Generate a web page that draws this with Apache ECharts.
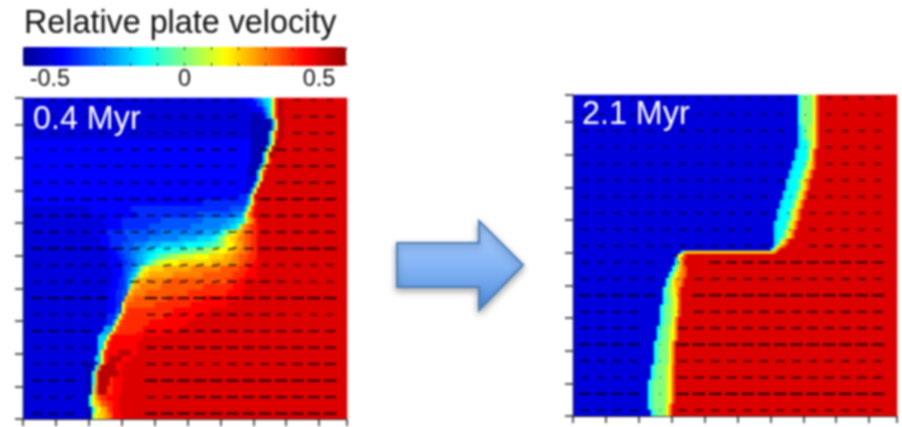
<!DOCTYPE html>
<html><head><meta charset="utf-8">
<style>html,body{margin:0;padding:0;background:#fff}#c{width:902px;height:427px;filter:blur(0.85px)}</style>
<script src="https://cdn.jsdelivr.net/npm/echarts@6/dist/echarts.min.js"></script>
</head><body><div id="c"></div>
<script>
// Field level letters: A=-0.55 ... L=0 ... W=+0.55 (relative plate velocity)
const levelCodes = "ABCDEFGHIJKLMNOPQRSTUVW";
const levelValues = [-0.55,-0.5,-0.45,-0.4,-0.35,-0.3,-0.25,-0.2,-0.15,-0.1,-0.05,0,0.05,0.1,0.15,0.2,0.25,0.3,0.35,0.4,0.45,0.5,0.55];
const fieldCols = 108, fieldRows = 107;
// Each row: "lastRow  LEVELuntilColumn ..." (x to the right, rows from top)
const fieldA = [
"1 B73 C77 E79 G80 H82 I83 O84 T85 W86 V","3 B75 C78 E80 G81 H82 I83 O84 T85 W87 V","5 B77 C80 E81 G82 I83 O84 T85 W87 V",
"7 B76 A80 C81 F82 H83 O84 T85 W87 V","11 B76 A83 G84 O85 W87 V","14 B76 A82 H83 O84 T85 W87 V","16 C76 A82 H83 O84 W86 V",
"18 C76 A81 H82 O83 W85 V","20 C76 A80 H81 O82 W84 V","22 C76 A80 H81 O82 T83 V","24 C75 A79 H80 O81 T82 V","26 C75 A78 H79 O80 T81 V",
"28 C75 B78 H79 O80 V","30 C74 B77 G78 O79 V","32 C73 B76 G77 O78 V","34 C72 D75 G76 O77 V","36 C60 D74 E75 H76 O77 T78 V",
"38 B22 C36 D69 E74 H75 O76 S77 U78 V","40 B24 C38 D58 E70 F73 H74 O75 R76 T77 V",
"42 B27 C33 D46 E60 F68 G71 H73 I74 N75 Q76 R77 T78 V",
"44 B28 C33 D42 E56 F66 G69 H71 I72 M73 Q74 R75 S76 T78 U79 V",
"46 B24 C28 D34 E46 F60 G64 H66 I67 L69 N70 O71 P72 Q73 R74 S76 T78 U79 V",
"48 B26 C29 D35 E42 F52 G58 H63 I65 L67 N68 O69 P71 Q72 R74 S76 T78 V",
"50 B26 C29 D33 E37 F41 G46 H54 I60 J63 K65 L67 N68 O70 P71 Q73 R74 S76 T78 V",
"52 B28 C31 D33 E36 F39 G41 H44 I49 J53 K57 L61 M63 N65 O68 P70 Q72 R74 S76 T78 V",
"54 B29 C32 D34 E36 F38 G40 H42 I44 J45 K47 L49 M52 N57 O62 P67 Q70 R72 S75 T78 V",
"56 B29 C33 D35 E37 F38 G40 H41 I42 K43 L44 M45 N47 O52 P63 Q69 R72 S74 T77 U79 V",
"58 B30 C33 D34 E36 F37 G38 H39 L40 N41 O42 P47 Q56 R66 S72 T75 U78 V",
"60 B30 C33 D34 E35 F36 G37 H38 L39 O40 P42 Q50 R60 S70 T74 U78 V",
"62 B30 C32 D34 E35 G36 I37 P38 Q41 R48 S68 T72 U75 V",
"64 B29 C32 D34 E35 H36 P37 Q39 R46 S60 T70 U74 V",
"66 B28 C31 D33 E35 P36 Q37 R41 S55 T68 U73 V","68 B28 C31 D33 E34 Q35 R37 S48 T60 U71 V","70 B28 C31 D33 O34 R35 S44 T56 U68 V",
"72 B28 C31 E33 O34 S35 T50 U62 V","74 B28 D31 G32 O33 S34 T47 U58 V","76 B28 D30 G31 O32 S33 T42 U55 V","78 B27 G30 O31 S32 T40 U52 V",
"79 B26 G29 O30 S31 T38 U48 V","81 B25 H28 O29 T30 U40 V","84 B25 H27 O28 T29 U38 V","86 B25 H26 O27 T28 U32 W36 U38 V",
"88 B24 H26 O27 T28 U29 W33 U36 V","89 B23 A25 H26 O27 T28 W31 U34 V","91 B21 A24 I25 R26 W31 U33 V","93 B21 A23 I24 Q25 W32 U33 V",
"96 B21 A23 I24 Q25 W29 T30 U33 V","99 B21 A23 L24 R25 W28 T30 U33 V","101 B21 A22 I23 O24 Q25 S26 T28 U32 V",
"103 B21 A22 I23 O24 P25 Q26 S28 T30 U32 V","105 B21 A23 I24 N25 O26 Q28 S29 T30 U32 V","107 B21 A23 L24 O25 P27 Q28 R29 S30 U33 V"];
const fieldB = [
"10 B75 I76 L80 O81 S82 V","15 B75 H76 J77 K78 M80 O81 S82 V","18 B75 H76 I78 K79 M80 O81 S82 V","22 B74 H75 I78 K79 O80 S81 V",
"25 B73 H74 I77 K78 N79 P80 S81 V","28 B72 H73 I76 K77 N78 P79 S80 V","32 B71 H72 I75 K76 N77 P78 S79 V","35 B70 H71 I74 K75 N76 P77 S78 V",
"38 B69 H70 I73 K74 N75 P76 S77 V","42 B68 H69 I72 K73 N74 P75 S76 V","45 B67 H68 I71 K72 N73 P74 S75 V","48 B67 H68 I70 K71 N72 P73 S74 V",
"50 B67 H68 I69 N70 P71 S72 V","51 B67 I68 O69 Q70 S71 V","52 B66 I67 O68 R69 V","53 B36 I37 P67 R68 V","54 B33 A35 O37 T38 V",
"55 B34 G35 O36 S37 T38 V","57 B34 I35 N36 R37 V","59 B33 I34 L35 P36 R37 S38 V","61 B32 I33 L34 O35 Q36 R37 S38 V","64 B31 I32 L33 O34 Q36 S37 V",
"67 B30 I31 L33 O34 P35 S36 V","70 B30 I31 K32 L33 N34 O35 S36 V","74 B29 I30 K31 L33 N34 O35 S36 V","77 B29 I30 K31 L33 O34 R35 V",
"82 B28 I29 K30 L32 N33 O34 R35 V","86 B27 I28 K29 L32 O33 R34 V","90 B27 I28 K29 L32 O33 R34 V","95 B26 I27 K28 L31 N32 O33 S34 V",
"103 B25 I26 K27 L31 N32 O33 S34 V","105 B25 I26 K27 L31 O32 R33 V","107 B26 I27 K28 L31 O32 R33 V"];
// Velocity arrow magnitudes per row (top to bottom) and column; '.' means no arrow
const arrowsA = [
"4444444444444...444","3333335555556...666","4444444444445...666","4555666666777.57666","5566666666665.67777",
"6666666666665..7777","7777777777775.88888","6666666666665.77777","6655666665556677777","8888887655556789999",
"5555565.66666655555","55655.7666667676555","88888..988999888999","55555..666667676555","7777...777777777777",
"5555...788888888888","5556...766556667788","777....999999999999","555....668888888888","777....999999999999"];
const arrowsB = [
"4444444444444..4444","4444444444444..4444","5555555555555..5555","4444444444444..5555","5555555555555..5555",
"5555555555555..5555","555555555555..55555","555555555555..55555","55555555555...55555","555555555555..66666",
"55555...88888888888","55555..666666666666","88888..999999999999","6666...777777777777","6666..7777777777777",
"8888..9999999999999","6666..6666666666666","5555..7777777777777","8888..9999999999999","6666..6666666666666"];
// Arrow tilts [row, column, degrees]
const tiltsA = [[1,12,18],[2,12,10],[3,13,-15],[8,7,8],[8,8,8],[8,9,8],[8,10,10],[8,11,10],[9,6,10],[9,7,15],[9,8,5],[9,11,10],[9,12,15],
[10,7,-35],[10,8,10],[10,9,10],[10,10,12],[10,11,12],[11,7,-8],[11,8,8],[11,9,12],[11,10,12],[11,11,12],[13,8,10],[13,9,10],[13,10,12],[15,5,25],[16,5,30],[18,4,50]];
// Short arrows inside the fault band of panel B: [x, row, magnitude, degrees]
const bandArrowsB = [[7.07,0,1,0],[7.07,1,1,0],[7.07,2,1,0],[7.07,3,1,0],[7.07,4,1,60],[7.07,5,2,30],[6.6,6,2,60],[6.55,7,2,70],[6.6,8,2,60],
[3.2,10,3,110],[3.2,11,2,70],[3.2,12,2,70],[3.2,13,2,45],[2.65,14,1,0],[2.65,15,1,0],[2.65,16,1,0],[2.65,17,1,0],[2.65,18,1,0],[2.65,19,1,0]];
const colorbarLabels = [-0.5, 0, 0.5];
const jet = ['#000090','#0000ff','#0080ff','#00ffff','#80ff80','#ffff00','#ff8000','#ff0000','#9a0000'];

function buildField(rows){
  const out=[]; let r=0;
  rows.forEach(s=>{
    const parts=s.split(' '); const end=+parts[0];
    const cols=[]; let c=0;
    parts.slice(1).forEach(p=>{
      const v=levelValues[levelCodes.indexOf(p[0])];
      const until=p.length>1?+p.slice(1):fieldCols;
      for(;c<until;c++) cols.push(v);
    });
    for(;r<end;r++) cols.forEach((v,i)=>out.push([i,r,v]));
  });
  return out;
}
function arrowItem(x,y,d,a){return {value:[x,y,d,a],itemStyle:{opacity:Math.min(0.9,0.2+d*0.075)}};}
function buildArrows(rows,x0,y0,dy,tilts,extra){
  const out=[];
  rows.forEach((s,r)=>{[...s].forEach((ch,k)=>{
    if(ch==='.')return;
    const t=tilts.find(e=>e[0]===r&&e[1]===k);
    out.push(arrowItem(x0+k*0.495,y0-r*dy,+ch,t?t[2]:0));
  });});
  extra.forEach(e=>out.push(arrowItem(e[0],y0-e[1]*dy,e[2],e[3])));
  return out;
}
const idxX=Array.from({length:fieldCols},(_,i)=>String(i));
const idxY=Array.from({length:fieldRows},(_,i)=>String(i));
const P=[{left:23,top:98},{left:573,top:95}];
const W=324,H=321,font='"Liberation Sans",Arial,sans-serif';
const heatAxisX=g=>({type:'category',gridIndex:g,data:idxX,show:false});
const heatAxisY=g=>({type:'category',gridIndex:g,data:idxY,show:false,inverse:true});
const tickAxisStyle={axisLine:{show:true,onZero:false,lineStyle:{color:'#333',width:1}},axisLabel:{show:false},splitLine:{show:false}};
const overX=g=>({type:'value',gridIndex:g,min:0,max:9.85,interval:1,position:'bottom',axisTick:{show:true,length:7,lineStyle:{color:'#222',width:1.5}},...tickAxisStyle,z:5});
const overY=g=>({type:'value',gridIndex:g,min:0,max:9.826,interval:1,position:'left',axisTick:{show:true,length:8,lineStyle:{color:'#222',width:1.5}},...tickAxisStyle,z:5});
const cbX=(pos,lbl)=>({type:'value',gridIndex:4,min:-0.6,max:0.6,interval:0.1,position:pos,z:10,
  axisLine:{show:false},splitLine:{show:false},
  axisTick:{show:true,inside:true,length:3,lineStyle:{color:'#333',width:1}},
  axisLabel:lbl?{show:true,customValues:colorbarLabels,margin:2,fontSize:23.5,color:'#111',fontFamily:font,formatter:v=>String(v)}:{show:false}});
const arrowSeries=(xi,data)=>({type:'scatter',xAxisIndex:xi,yAxisIndex:xi,symbol:'rect',data,z:3,silent:true,
  symbolSize:v=>[Math.max(2,v[2]*1.4),2],symbolRotate:v=>v[3],itemStyle:{color:'#000'}});
const titleStyle=c=>({fontSize:32.3,fontWeight:'normal',color:c,fontFamily:font});
const chart=echarts.init(document.getElementById('c'));
chart.setOption({
  animation:false,backgroundColor:'#fff',
  title:[
    {text:'Relative plate velocity',left:24,top:8,padding:0,textStyle:titleStyle('#111')},
    {text:'0.4 Myr',left:33,top:104,padding:0,z:8,textStyle:titleStyle('#fff')},
    {text:'2.1 Myr',left:582,top:99,padding:0,z:8,textStyle:titleStyle('#fff')}
  ],
  visualMap:{type:'continuous',min:-0.6,max:0.6,seriesIndex:[0,1],orient:'horizontal',left:23,top:47,padding:0,itemWidth:19,itemHeight:323,
    calculable:false,text:null,showLabel:false,hoverLink:false,realtime:false,inRange:{color:jet}},
  grid:[
    {left:P[0].left,top:P[0].top,width:W,height:H},{left:P[1].left,top:P[1].top,width:W,height:H},
    {left:P[0].left,top:P[0].top,width:W,height:H},{left:P[1].left,top:P[1].top,width:W,height:H},
    {left:23,top:47,width:323,height:19}
  ],
  xAxis:[heatAxisX(0),heatAxisX(1),overX(2),overX(3),cbX('bottom',true),cbX('top',false)],
  yAxis:[heatAxisY(0),heatAxisY(1),overY(2),overY(3),{type:'value',gridIndex:4,show:false}],
  graphic:[{type:'polygon',z:1,shape:{points:[[397,243],[479,243],[479,221],[523,265],[479,310],[479,287],[397,287]]},
    style:{fill:{type:'linear',x:0,y:0,x2:0,y2:1,colorStops:[{offset:0,color:'#a8ccff'},{offset:0.5,color:'#85b5f5'},{offset:1,color:'#4c8cdb'}]},
      stroke:'#4a7fbd',lineWidth:2,shadowBlur:7,shadowOffsetY:3,shadowColor:'rgba(0,0,0,0.35)'}}],
  series:[
    {type:'heatmap',xAxisIndex:0,yAxisIndex:0,data:buildField(fieldA),progressive:0,silent:true,z:1},
    {type:'heatmap',xAxisIndex:1,yAxisIndex:1,data:buildField(fieldB),progressive:0,silent:true,z:1},
    arrowSeries(2,buildArrows(arrowsA,0.425,9.76,0.505,tiltsA,[])),
    arrowSeries(3,buildArrows(arrowsB,0.36,9.73,0.503,[],bandArrowsB)),
  ]
});
</script></body></html>
